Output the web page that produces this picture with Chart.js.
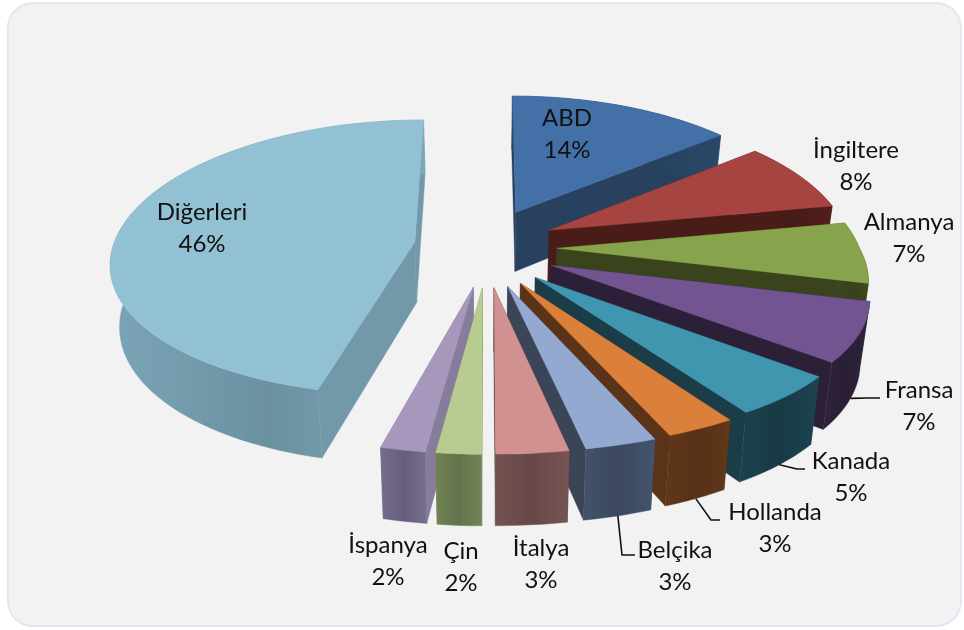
<!DOCTYPE html>
<html><head><meta charset="utf-8">
<style>
html,body{margin:0;padding:0;background:#fff;width:964px;height:630px;overflow:hidden}
#panel{position:absolute;left:7px;top:2px;width:951px;height:621px;background:#f2f2f2;border:2.5px solid #dfe8f4;border-radius:26px}
canvas{position:absolute;left:0;top:0;filter:blur(0.45px)}
</style>
<script src="https://cdn.jsdelivr.net/npm/chart.js@4/dist/chart.umd.min.js"></script>
</head><body>
<div id="panel"></div>
<canvas id="c" width="964" height="630"></canvas>
<script>
const categories = ['ABD','İngiltere','Almanya','Fransa','Kanada','Hollanda','Belçika','İtalya','Çin','İspanya','Diğerleri'];
const shares = [14,8,7,7,5,3,3,3,2,2,46];
const explode = [65,65,65,65,65,65,65,65,65,65,68];
const topColors = ['#4470A8','#A64442','#87A44C','#725590','#4096AE','#DA803A','#93A9D0','#D09190','#B8CC92','#A797BC','#92C1D4'];
const wallColors = ['#27415F','#4A1C18','#39431C','#2C2038','#1A3D48','#5A3318','#3E4C63','#6C4C4C','#68784F','#6C6383','#7199A9'];
const radialColors = ['#27415F','#4A1C18','#39431C','#2C2038','#1A3D48','#5A3318','#3B4558','#4E3232','#7F8F63','#877C9C','#7199A9'];
// label centres and optional leader elbows (annotation layout, not data)
const labelX = [567,856,909,919,851,775,675,541,461,388,202];
const labelY = [118,150,222,390,461,512,550,548,551,545,212];
const elbowA = [null,null,null,[868,398],[797,469],[711,520],[622,555],null,null,null,null];
const elbowB = [null,null,null,[880,398],[805,469],[720,520],[635,555],null,null,null,null];
const view = {cx:487, cy:247, rx:302, ky:137, perspX:0.137, perspY:0.115, depth:61, shrink:0.975, skew:0.06, offsetY:1.25};

function project(u,v,low){
  const sx = 1/(1-view.perspX*v), sy = 1/(1-view.perspY*v);
  const k = (u>0&&v>0) ? 1+view.skew*v : 1;
  let x = view.cx+u*view.rx*sx*k, y = view.cy+view.ky*v*sy;
  if(low){ x = view.cx+(x-view.cx)*view.shrink; y += view.depth*sy; }
  return [x,y];
}
function shade(hex,f){
  const n=parseInt(hex.slice(1),16);
  const c=[(n>>16)&255,(n>>8)&255,n&255].map(q=>Math.min(255,Math.round(q*f)));
  return `rgb(${c[0]},${c[1]},${c[2]})`;
}
function poly(ctx,pts,fill){
  ctx.beginPath(); pts.forEach((p,i)=>i?ctx.lineTo(p[0],p[1]):ctx.moveTo(p[0],p[1]));
  ctx.closePath(); ctx.fillStyle=fill; ctx.strokeStyle=fill; ctx.lineWidth=0.4; ctx.fill(); ctx.stroke();
}
const pie3d = {
  id:'pie3d',
  beforeDatasetDraw(){ return false; },
  afterDatasetsDraw(chart){
    const ctx=chart.ctx, arcs=chart.getDatasetMeta(0).data;
    const items=arcs.map((el,i)=>{
      const p=el.getProps(['startAngle','endAngle','outerRadius']);
      const off=el.options.offset/p.outerRadius, mid=(p.startAngle+p.endAngle)/2;
      const ax=Math.cos(mid)*off, ay=Math.sin(mid)*off*view.offsetY;
      const n=Math.max(4,Math.ceil((p.endAngle-p.startAngle)*30));
      const rim=[];
      for(let k=0;k<=n;k++){const t=p.startAngle+(p.endAngle-p.startAngle)*k/n; rim.push([ax+Math.cos(t),ay+Math.sin(t)]);}
      return {i,ax,ay,rim,mid,v:ay+Math.sin(mid)*0.6};
    }).sort((a,b)=>a.v-b.v);
    ctx.save();
    for(const it of items){
      const {i,ax,ay,rim}=it;
      const up=rim.map(q=>project(q[0],q[1],false)), lo=rim.map(q=>project(q[0],q[1],true));
      const A=project(ax,ay,false), B=project(ax,ay,true);
      const a=rim[0], b=rim[rim.length-1];
      poly(ctx,[A,project(a[0],a[1],false),project(a[0],a[1],true),B],radialColors[i]);
      poly(ctx,[A,project(b[0],b[1],false),project(b[0],b[1],true),B],radialColors[i]);
      const xs=up.concat(lo).map(q=>q[0]), x0=Math.min(...xs), x1=Math.max(...xs);
      const g=ctx.createLinearGradient(x0,0,x1,0);
      g.addColorStop(0,shade(wallColors[i],1.08)); g.addColorStop(.5,shade(wallColors[i],.95)); g.addColorStop(1,shade(wallColors[i],1.1));
      poly(ctx,up.concat(lo.slice().reverse()),g);
      poly(ctx,[A].concat(up),topColors[i]);
    }
    // leaders
    ctx.strokeStyle='#111'; ctx.lineWidth=1.6; ctx.lineJoin='round';
    for(const it of items){
      const i=it.i; if(!elbowA[i]) continue;
      const q=it.rim[Math.floor(it.rim.length/2)];
      const s=project(q[0],q[1],true);
      ctx.beginPath(); ctx.moveTo(s[0],s[1]); ctx.lineTo(elbowA[i][0],elbowA[i][1]); ctx.lineTo(elbowB[i][0],elbowB[i][1]); ctx.stroke();
    }
    // labels
    ctx.fillStyle='#111'; ctx.font='24px Lato, "Noto Sans", sans-serif'; ctx.textAlign='center'; ctx.textBaseline='middle';
    categories.forEach((c,i)=>{
      ctx.fillText(c,labelX[i],labelY[i]);
      ctx.fillText(shares[i]+'%',labelX[i],labelY[i]+32);
    });
    ctx.restore();
  }
};
new Chart(document.getElementById('c'),{
  type:'pie',
  data:{labels:categories,datasets:[{data:shares,backgroundColor:topColors,borderWidth:0,offset:explode,hoverOffset:0}]},
  options:{responsive:false,animation:false,events:[],plugins:{legend:{display:false},tooltip:{enabled:false},title:{display:false}}},
  plugins:[pie3d]
});
</script>
</body></html>
